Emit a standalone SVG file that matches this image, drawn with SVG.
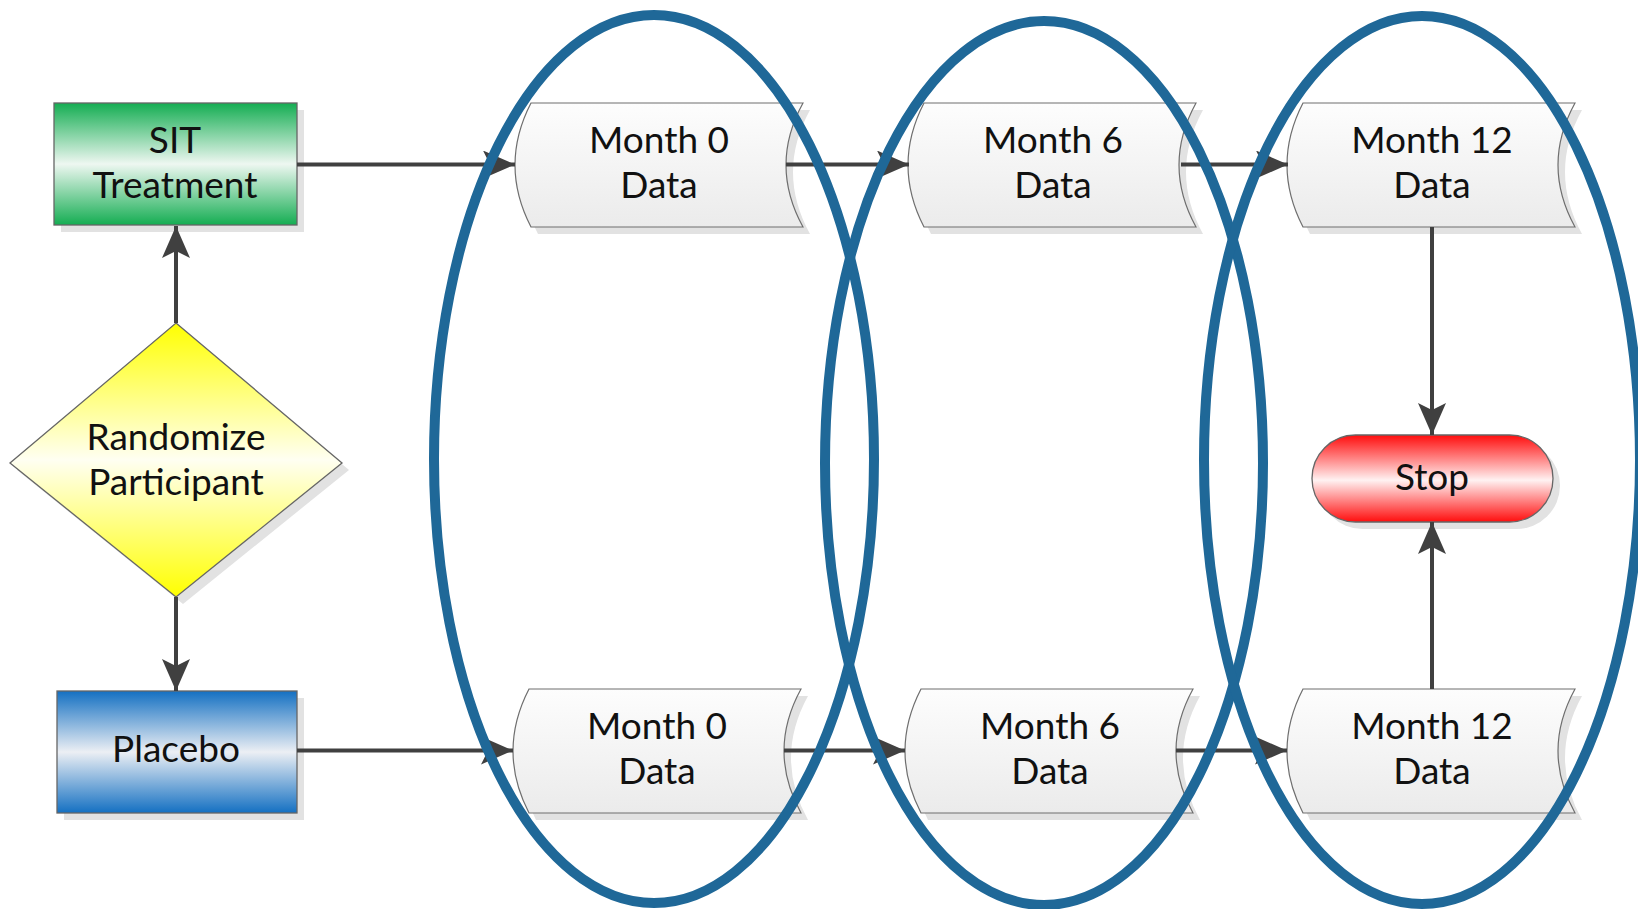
<svg xmlns="http://www.w3.org/2000/svg" width="1638" height="909" viewBox="0 0 1638 909">
  <defs>
    <linearGradient id="gGreen" x1="0" y1="0" x2="0" y2="1">
      <stop offset="0" stop-color="#14ad52"/>
      <stop offset="0.5" stop-color="#eef7f1"/>
      <stop offset="1" stop-color="#14ad52"/>
    </linearGradient>
    <linearGradient id="gBlue" x1="0" y1="0" x2="0" y2="1">
      <stop offset="0" stop-color="#1470c2"/>
      <stop offset="0.5" stop-color="#eceff4"/>
      <stop offset="1" stop-color="#1470c2"/>
    </linearGradient>
    <linearGradient id="gYellow" x1="0" y1="0" x2="0" y2="1">
      <stop offset="0" stop-color="#ffff00"/>
      <stop offset="0.5" stop-color="#fffff2"/>
      <stop offset="1" stop-color="#ffff00"/>
    </linearGradient>
    <linearGradient id="gRed" x1="0" y1="0" x2="0" y2="1">
      <stop offset="0" stop-color="#ff0d0d"/>
      <stop offset="0.52" stop-color="#fff2f2"/>
      <stop offset="1" stop-color="#ff0d0d"/>
    </linearGradient>
    <linearGradient id="gData" x1="0" y1="0" x2="0" y2="1">
      <stop offset="0" stop-color="#fdfdfd"/>
      <stop offset="1" stop-color="#ebebeb"/>
    </linearGradient>
    <!-- stored-data shape: convex left side, concave right side; origin at top-left corner -->
    <path id="dataShape" d="M0,0 L272,0 Q238,62 272,124 L0,124 Q-32,62 0,0 Z"/>
    <marker id="arrow" markerUnits="userSpaceOnUse" viewBox="0 0 32 28" refX="32" refY="14" markerWidth="32" markerHeight="28" orient="auto">
      <path d="M0,0 L32,14 L0,28 L7,14 Z" fill="#404040"/>
    </marker>
  </defs>
  <style>
    .shadow { fill: #e2e2e2; stroke: none; }
    .node { stroke: #666666; stroke-width: 1.3; }
    .data { fill: url(#gData); stroke: #6e6e6e; stroke-width: 1.2; }
    .label { font-family: "Lato", "Liberation Sans", sans-serif; font-size: 37px; fill: #111111; text-anchor: middle; }
    .conn { fill: none; stroke: #404040; stroke-width: 4; marker-end: url(#arrow); }
    .ring { fill: none; stroke: #1f6898; stroke-width: 10; }
  </style>

  <rect width="1638" height="909" fill="#ffffff"/>

  <!-- start boxes -->
  <g id="sit">
    <rect class="shadow" x="61" y="110" width="243" height="122"/>
    <rect class="node" x="54" y="103" width="243" height="122" fill="url(#gGreen)"/>
    <text class="label" x="175" y="153">SIT</text>
    <text class="label" x="175" y="198">Treatment</text>
  </g>

  <g id="placebo">
    <rect class="shadow" x="64" y="698" width="240" height="122"/>
    <rect class="node" x="57" y="691" width="240" height="122" fill="url(#gBlue)"/>
    <text class="label" x="176" y="762">Placebo</text>
  </g>

  <g id="randomize">
    <polygon class="shadow" points="183,330 349,470 183,604 17,470"/>
    <polygon class="node" points="176,323 342,463 176,597 10,463" fill="url(#gYellow)"/>
    <text class="label" x="176" y="450">Randomize</text>
    <text class="label" x="176" y="495">Participant</text>
  </g>

  <!-- data collection points, SIT arm -->
  <g id="m0-top">
    <use href="#dataShape" class="shadow" x="538" y="110"/>
    <use href="#dataShape" class="data" x="531" y="103"/>
    <text class="label" x="659" y="153">Month 0</text>
    <text class="label" x="659" y="198">Data</text>
  </g>
  <g id="m6-top">
    <use href="#dataShape" class="shadow" x="931" y="110"/>
    <use href="#dataShape" class="data" x="924" y="103"/>
    <text class="label" x="1053" y="153">Month 6</text>
    <text class="label" x="1053" y="198">Data</text>
  </g>
  <g id="m12-top">
    <use href="#dataShape" class="shadow" x="1310" y="110"/>
    <use href="#dataShape" class="data" x="1303" y="103"/>
    <text class="label" x="1432" y="153">Month 12</text>
    <text class="label" x="1432" y="198">Data</text>
  </g>

  <!-- data collection points, placebo arm -->
  <g id="m0-bottom">
    <use href="#dataShape" class="shadow" x="536" y="696"/>
    <use href="#dataShape" class="data" x="529" y="689"/>
    <text class="label" x="657" y="739">Month 0</text>
    <text class="label" x="657" y="784">Data</text>
  </g>
  <g id="m6-bottom">
    <use href="#dataShape" class="shadow" x="928" y="696"/>
    <use href="#dataShape" class="data" x="921" y="689"/>
    <text class="label" x="1050" y="739">Month 6</text>
    <text class="label" x="1050" y="784">Data</text>
  </g>
  <g id="m12-bottom">
    <use href="#dataShape" class="shadow" x="1310" y="696"/>
    <use href="#dataShape" class="data" x="1303" y="689"/>
    <text class="label" x="1432" y="739">Month 12</text>
    <text class="label" x="1432" y="784">Data</text>
  </g>

  <g id="stop">
    <rect class="shadow" x="1319" y="442" width="241" height="87" rx="43.5"/>
    <rect class="node" x="1312" y="435" width="241" height="87" rx="43.5" fill="url(#gRed)"/>
    <text class="label" x="1432" y="490">Stop</text>
  </g>

  <!-- connectors, drawn over the node shadows -->
  <g id="connectors">
    <line class="conn" x1="176" y1="323" x2="176" y2="226"/>
    <line class="conn" x1="176" y1="597" x2="176" y2="691"/>
    <line class="conn" x1="297" y1="164.5" x2="515" y2="164.5"/>
    <line class="conn" x1="786" y1="164.5" x2="909" y2="164.5"/>
    <line class="conn" x1="1181" y1="164.5" x2="1288" y2="164.5"/>
    <line class="conn" x1="297" y1="750.5" x2="513" y2="750.5"/>
    <line class="conn" x1="784" y1="750.5" x2="905" y2="750.5"/>
    <line class="conn" x1="1176" y1="750.5" x2="1287" y2="750.5"/>
    <line class="conn" x1="1432" y1="227" x2="1432" y2="435"/>
    <line class="conn" x1="1432" y1="689" x2="1432" y2="522"/>
  </g>

  <!-- time-point groupings -->
  <g id="periods">
    <ellipse class="ring" cx="654" cy="459" rx="220" ry="444"/>
    <ellipse class="ring" cx="1044" cy="463" rx="219" ry="442"/>
    <ellipse class="ring" cx="1422" cy="460" rx="218" ry="444"/>
  </g>
</svg>
